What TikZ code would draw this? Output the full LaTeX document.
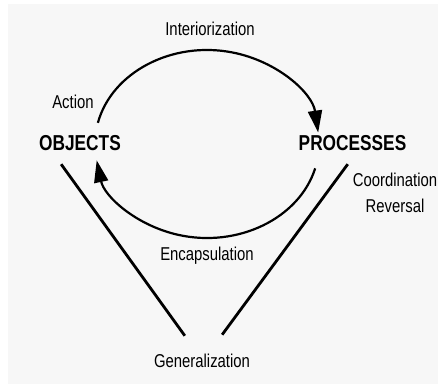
\documentclass[tikz,border=0pt]{standalone}
\usepackage{fontspec}
\setmainfont{Liberation Sans}[FakeStretch=0.8]
\usetikzlibrary{arrows.meta}

\begin{document}
\begin{tikzpicture}[x=0.5pt, y=0.5pt,
	  lbl/.style={font=\fontsize{9.3}{13}\selectfont, align=center},
	  big/.style={font=\fontsize{10.8}{12}\selectfont\bfseries},
	  cyc/.style={line width=1.1pt, -{Triangle[length=11pt,width=7pt]}},
	  gen/.style={line width=1.4pt}]
	  \useasboundingbox (0,0) rectangle (438,386);
	  \fill [black!3] (8,2) rectangle (438,382);

	  \node [big] (obj)  at (80,243)  {OBJECTS};
	  \node [big] (proc) at (352.5,243) {PROCESSES};
	  \node [lbl] (gnr)  at (202,25)  {Generalization};

	  \node [lbl] (act)  at (73,284)  {Action};
	  \node [lbl] (intr) at (210,357) {Interiorization};
	  \node [lbl] (enc)  at (207,130) {Encapsulation};
	  \node [lbl] (crd)  at (395,193) {Coordination\\Reversal};

	  % the loop between objects and processes
	  \coordinate (mid) at (207,242);
	  \draw [cyc] (mid) ++(167:112 and 94) arc [start angle=167, end angle=7, x radius=112, y radius=94];
	  \draw [cyc] (mid) ++(-15:112 and 94) arc [start angle=-15, end angle=-170, x radius=112, y radius=94];

	  \draw [gen, shorten <=4pt, shorten >=7pt] (obj.-148) to ([xshift=-4.5pt]gnr.north);
	  \draw [gen, shorten <=4pt, shorten >=7.7pt] (proc.south) to ([xshift=5.5pt]gnr.north);
	\end{tikzpicture}
\end{document}
